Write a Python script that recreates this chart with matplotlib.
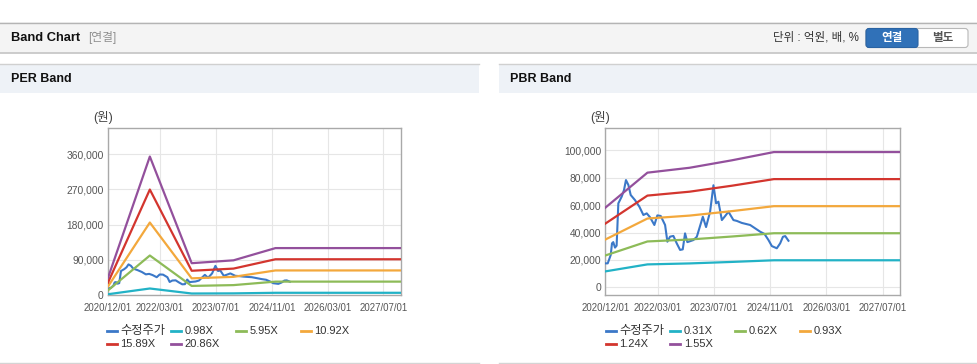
import matplotlib
matplotlib.use('Agg')
import matplotlib.pyplot as plt
import matplotlib.dates as mdates
import matplotlib.patches as mpatches
import pandas as pd

plt.rcParams['font.family'] = ['Liberation Sans', 'Noto Sans CJK KR']

W, H = 978, 364

# --- data -------------------------------------------------------------
price_dates = ['2020-12-01', '2020-12-22', '2021-01-17', '2021-01-28', '2021-02-08',
               '2021-02-23', '2021-03-09', '2021-03-24', '2021-04-22', '2021-05-12',
               '2021-05-29', '2021-06-19', '2021-07-09', '2021-08-15', '2021-09-22',
               '2021-10-27', '2021-11-25', '2021-12-24', '2022-01-30', '2022-02-25',
               '2022-03-26', '2022-05-03', '2022-05-23', '2022-06-15', '2022-07-14',
               '2022-08-12', '2022-09-10', '2022-10-03', '2022-10-23', '2022-11-12',
               '2023-01-03', '2023-02-02', '2023-03-26', '2023-04-23', '2023-05-28',
               '2023-06-26', '2023-07-19', '2023-08-08', '2023-09-07', '2023-10-05',
               '2023-11-03', '2023-12-16', '2024-01-14', '2024-02-27', '2024-05-09',
               '2024-08-04', '2024-09-10', '2024-10-15', '2024-11-13', '2024-12-26',
               '2025-01-24', '2025-02-17', '2025-03-09', '2025-04-06']
price_vals = [17500, 17500, 23600, 32100, 33000,
              29000, 30400, 61300, 66200, 71000,
              78300, 74700, 67400, 63700, 58900,
              52800, 54000, 51100, 45500, 52500,
              52100, 45500, 33300, 37000, 37500,
              32100, 27300, 27700, 39400, 33000,
              34500, 36900, 51500, 44000, 55200,
              74500, 61300, 62500, 49100, 52000,
              55200, 49100, 48500, 47000, 45500,
              40600, 39000, 34500, 30100, 28500,
              32100, 36900, 37400, 34000]

band_dates = ['2020-12-01', '2021-12-01', '2022-12-01', '2023-12-01', '2024-12-01', '2027-12-01']

per_labels = ['0.98X', '5.95X', '10.92X', '15.89X', '20.86X']
per_098 = [1960, 16630, 3820, 4170, 5640, 5640]
per_595 = [11900, 100970, 23210, 25290, 34210, 34210]
per_1092 = [21840, 185310, 42590, 46410, 62790, 62790]
per_1589 = [31780, 269650, 61970, 67530, 91370, 91370]
per_2086 = [44000, 354000, 81350, 88660, 119950, 119950]

pbr_labels = ['0.31X', '0.62X', '0.93X', '1.24X', '1.55X']
pbr_031 = [11630, 16740, 17450, 18540, 19750, 19750]
pbr_062 = [23250, 33480, 34910, 37080, 39490, 39490]
pbr_093 = [34880, 50220, 52360, 55610, 59240, 59240]
pbr_124 = [46500, 66960, 69810, 74150, 78990, 78990]
pbr_155 = [58130, 83700, 87270, 92690, 98740, 98740]

x_ticks = ['2020-12-01', '2022-03-01', '2023-07-01', '2024-11-01', '2026-03-01', '2027-07-01']
per_yticks = [0, 90000, 180000, 270000, 360000]
pbr_yticks = [0, 20000, 40000, 60000, 80000, 100000]

price_color = '#3b78c8'
band_colors = ['#22b2c6', '#8dbb58', '#f3a83c', '#d3352e', '#93509c']

# --- page frame -------------------------------------------------------
fig = plt.figure(figsize=(W / 100, H / 100), dpi=100)
bg = fig.add_axes([0, 0, 1, 1])
bg.set_xlim(0, W)
bg.set_ylim(H, 0)
bg.axis('off')

bg.add_patch(mpatches.Rectangle((0, 22), W, 31, facecolor='#f4f4f4', edgecolor='none'))
bg.plot([0, W], [22.5, 22.5], color='#b4b4b4', lw=1)
bg.plot([0, W], [53, 53], color='#c4c4c4', lw=1.2)
bg.text(11, 38, 'Band Chart', fontsize=9.3, fontweight='bold', color='#111', va='center')
bg.text(88, 38, '[연결]', fontsize=8.5, color='#909090', va='center')
bg.text(859, 38, '단위 : 억원, 배, %', fontsize=8.3, color='#333', va='center', ha='right')
bg.add_patch(mpatches.FancyBboxPatch((866, 28.5), 102, 19, boxstyle='round,pad=0,rounding_size=3',
                                     facecolor='white', edgecolor='#b8b8b8', lw=0.8))
bg.add_patch(mpatches.FancyBboxPatch((866, 28.5), 52, 19, boxstyle='round,pad=0,rounding_size=3',
                                     facecolor='#3071b8', edgecolor='#2a63a3', lw=0.8))
bg.text(892, 38, '연결', fontsize=8.3, fontweight='bold', color='white', va='center', ha='center')
bg.text(943, 38, '별도', fontsize=8.3, fontweight='bold', color='#555', va='center', ha='center')

for x0, x1, title in [(0, 479, 'PER Band'), (499, W, 'PBR Band')]:
    bg.add_patch(mpatches.Rectangle((x0, 64), x1 - x0, 28.5, facecolor='#eef2f7', edgecolor='none'))
    bg.plot([x0, x1], [64, 64], color='#d0d0d0', lw=1)
    bg.plot([x0, x1], [362.5, 362.5], color='#d4d4d4', lw=1)
    bg.text(x0 + 11, 79.5, title, fontsize=9, fontweight='bold', color='#111', va='center')


# --- charts -----------------------------------------------------------
def band_chart(rect, bands, labels, yticks, ylim, unit_xy, legend_x):
    left, top, right, bottom = rect
    ax = fig.add_axes([left / W, 1 - bottom / H, (right - left) / W, (bottom - top) / H])
    ax.set_facecolor('none')
    ax.plot(pd.to_datetime(price_dates), price_vals, color=price_color, lw=1.5, zorder=3)
    for vals, c in zip(bands, band_colors):
        ax.plot(pd.to_datetime(band_dates), vals, color=c, lw=1.6, zorder=3)
    ax.set_xlim(pd.Timestamp('2020-12-01'), pd.Timestamp('2027-12-01'))
    ax.set_ylim(*ylim)
    ax.set_xticks(pd.to_datetime(x_ticks))
    ax.xaxis.set_major_formatter(mdates.DateFormatter('%Y/%m/%d'))
    ax.set_yticks(yticks)
    ax.set_yticklabels([f'{v:,}' for v in yticks])
    ax.tick_params(axis='x', length=0, pad=6, labelsize=6.9, labelcolor='#555')
    ax.tick_params(axis='y', length=0, pad=3, labelsize=7.4, labelcolor='#555')
    ax.grid(True, color='#e6e6e6', lw=0.8, zorder=0)
    for s in ax.spines.values():
        s.set_color('#a9a9a9')
        s.set_linewidth(1)
    bg.text(unit_xy[0], unit_xy[1], '(원)', fontsize=9, color='#444', ha='center', va='center')

    # legend laid out row by row like the original
    names = ['수정주가'] + labels
    colors = [price_color] + band_colors
    for i, (n, c) in enumerate(zip(names, colors)):
        lx = legend_x + (i % 4) * 64.7
        ly = 331 + (i // 4) * 13.3
        bg.plot([lx, lx + 10], [ly, ly], color=c, lw=2)
        bg.text(lx + 13.5, ly, n, fontsize=8.8 if i == 0 else 8, color='#333', va='center')
    return ax


band_chart((108, 128, 401, 295), [per_098, per_595, per_1092, per_1589, per_2086],
           per_labels, per_yticks, (0, 427000), (103, 118), 106.5)
band_chart((605.3, 128, 900.3, 295), [pbr_031, pbr_062, pbr_093, pbr_124, pbr_155],
           pbr_labels, pbr_yticks, (-5600, 116300), (600, 118), 605.7)

fig.savefig('out.png', dpi=100)
